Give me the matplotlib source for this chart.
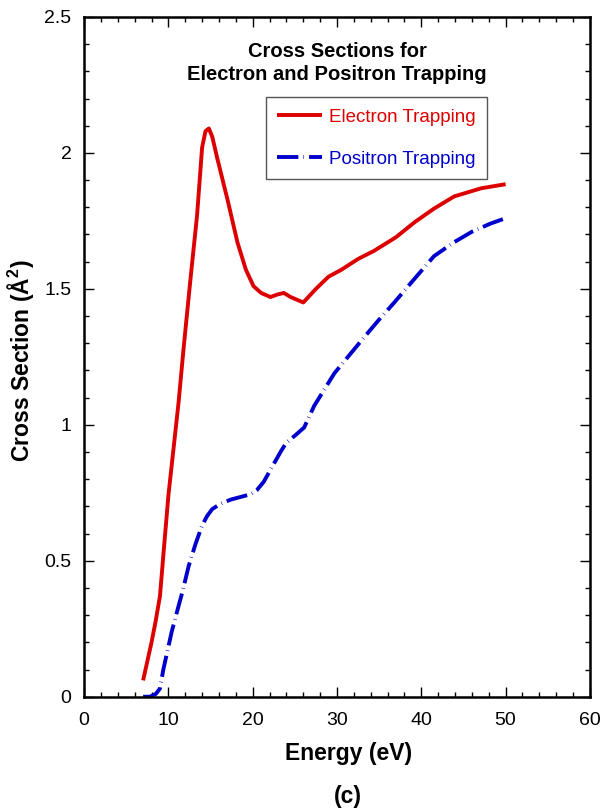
import matplotlib
matplotlib.use("Agg")
import matplotlib.pyplot as plt
from matplotlib.ticker import MultipleLocator

plt.rcParams['font.family'] = ['Liberation Sans', 'DejaVu Sans']
plt.rcParams['mathtext.fontset'] = 'custom'
plt.rcParams['mathtext.rm'] = 'Liberation Sans'
plt.rcParams['mathtext.bf'] = 'Liberation Sans:bold'

# electron trapping cross section (solid red)
e_energy = [7.0, 7.5, 8.0, 8.5, 9.0, 9.4, 10.0, 10.6, 11.2, 11.8, 12.6, 13.4,
            14.0, 14.4, 14.8, 15.2, 15.8, 17.0, 18.2, 19.2, 20.1, 21.0, 22.1,
            23.0, 23.7, 24.5, 26.0, 27.5, 29.0, 30.5, 32.5, 34.4, 37.0, 39.2,
            41.5, 43.9, 47.1, 50.0]
e_sigma = [0.06, 0.13, 0.20, 0.28, 0.37, 0.52, 0.74, 0.91, 1.08, 1.28, 1.53, 1.77,
           2.02, 2.08, 2.09, 2.06, 1.98, 1.83, 1.67, 1.57, 1.51, 1.485, 1.47,
           1.48, 1.485, 1.47, 1.45, 1.50, 1.545, 1.57, 1.61, 1.64, 1.69, 1.745,
           1.795, 1.84, 1.87, 1.885]

# positron trapping cross section (dashed blue)
p_energy = [7.0, 7.8, 8.5, 9.0, 9.4, 9.9, 10.4, 11.0, 11.7, 12.4, 13.2, 14.0,
            14.6, 15.2, 16.2, 17.4, 18.6, 19.8, 20.5, 21.3, 22.3, 23.3, 24.0,
            25.0, 26.1, 27.3, 28.5, 29.7, 31.3, 32.9, 34.8, 36.8, 39.0, 41.5,
            43.8, 46.0, 48.2, 50.0]
p_sigma = [0.0, 0.0, 0.01, 0.03, 0.10, 0.17, 0.24, 0.31, 0.39, 0.48, 0.56, 0.63,
           0.665, 0.69, 0.71, 0.725, 0.735, 0.745, 0.76, 0.79, 0.845, 0.90, 0.935,
           0.96, 0.99, 1.07, 1.13, 1.19, 1.25, 1.31, 1.38, 1.45, 1.53, 1.62,
           1.67, 1.71, 1.74, 1.76]

fig = plt.figure(figsize=(6.05, 8.09), dpi=100)
ax = fig.add_axes([0.139, 0.1388, 0.836, 0.8402])

ax.plot(e_energy, e_sigma, color='#dd0000', lw=2.8, label='Electron Trapping',
        solid_joinstyle='round', solid_capstyle='butt')
ax.plot(p_energy, p_sigma, color='#0000cc', lw=2.8, label='Positron Trapping',
        linestyle=(0, (5.5, 1.3, 0.15, 1.3)), dash_capstyle='butt')

ax.set_xlim(0, 60)
ax.set_ylim(0, 2.5)
ax.xaxis.set_major_locator(MultipleLocator(10))
ax.xaxis.set_minor_locator(MultipleLocator(2))
ax.yaxis.set_major_locator(MultipleLocator(0.5))
ax.yaxis.set_minor_locator(MultipleLocator(0.1))
ax.set_yticks([0, 0.5, 1, 1.5, 2, 2.5])
ax.set_yticklabels(['0', '0.5', '1', '1.5', '2', '2.5'])

ax.tick_params(which='both', direction='in', top=True, right=True,
               labelsize=14, width=1.0)
ax.tick_params(axis='x', which='both', pad=11)
ax.tick_params(axis='y', which='both', pad=9)
ax.tick_params(which='major', length=7.2)
ax.tick_params(which='minor', length=3.8)
for s in ax.spines.values():
    s.set_linewidth(1.8)

ax.set_xlabel('Energy (eV)', fontsize=16.5, fontweight='bold')
ax.xaxis.set_label_coords(0.522, -0.066)
ax.set_ylabel(r'Cross Section (Å$^{\mathbf{2}}$)', fontsize=16.5, fontweight='bold')
ax.yaxis.set_label_coords(-0.095, 0.495)

ax.text(0.522, -0.1475, '(c)', transform=ax.transAxes, ha='center', va='center',
        fontsize=16.5, fontweight='bold')

ax.text(0.5, 0.941, 'Cross Sections for', transform=ax.transAxes,
        ha='center', va='baseline', fontsize=14.5, fontweight='bold')
ax.text(0.5, 0.908, 'Electron and Positron Trapping', transform=ax.transAxes,
        ha='center', va='baseline', fontsize=14.5, fontweight='bold')

leg = ax.legend(loc='upper left', bbox_to_anchor=(0.359, 0.882), borderaxespad=0,
                fontsize=13.5, handlelength=2.4, handletextpad=0.4,
                labelspacing=1.35, borderpad=0.6, fancybox=False,
                labelcolor='linecolor', framealpha=1)
leg.get_frame().set_edgecolor('#555555')
leg.get_frame().set_linewidth(1.0)

fig.savefig('out.png', dpi=100)
